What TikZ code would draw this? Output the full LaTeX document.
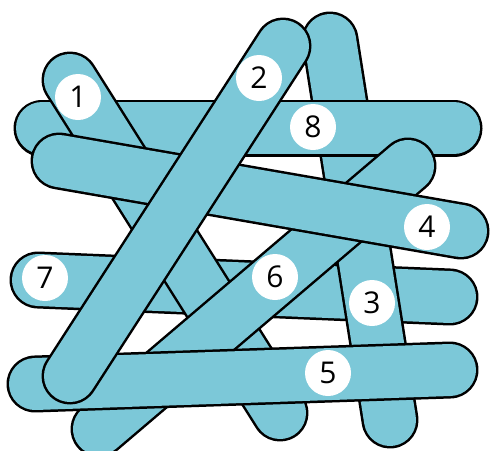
\documentclass[tikz,border=0pt]{standalone}
\usepackage{fontspec}
\setmainfont{Open Sans}
\definecolor{stickblue}{RGB}{124,200,216}
\tikzset{
  stk/.style ={line width=2.5pt, double=stickblue, double distance=52pt, line cap=round},
  num/.style ={circle, fill=white, minimum size=46pt, inner sep=0pt, font=\fontsize{30}{30}\selectfont},
}
\begin{document}
\begin{tikzpicture}[x=1pt, y=-1pt]
  \useasboundingbox (0,0) rectangle (492,450);
  \coordinate (s1a) at (70,80);   \coordinate (s1b) at (280,413);
  \coordinate (s2a) at (70,376);  \coordinate (s2b) at (283,46);
  \coordinate (s3a) at (330,40);  \coordinate (s3b) at (390,420);
  \coordinate (s4a) at (59,161);  \coordinate (s4b) at (461,231);
  \coordinate (s5a) at (35,384);  \coordinate (s5b) at (450,370);
  \coordinate (s6a) at (99,429);  \coordinate (s6b) at (408,166);
  \coordinate (s7a) at (38,280);  \coordinate (s7b) at (450,297);
  \coordinate (s8a) at (42,128);  \coordinate (s8b) at (454,128);
  \draw[stk] (s7a) -- (s7b);
  \node[num] (n7) at (45,278) {7};
  \draw[stk] (s3a) -- (s3b);
  \node[num] (n3) at (372,303) {3};
  \draw[stk] (s8a) -- (s8b);
  \node[num] (n8) at (313,127) {8};
  \draw[stk] (s1a) -- (s1b);
  \node[num] (n1) at (78,97) {1};
  \draw[stk] (s6a) -- (s6b);
  \node[num] (n6) at (275,277) {6};
  \draw[stk] (s4a) -- (s4b);
  \node[num] (n4) at (427,227) {4};
  \draw[stk] (s5a) -- (s5b);
  \node[num] (n5) at (328,373) {5};
  \draw[stk] (s2a) -- (s2b);
  \node[num] (n2) at (259,78) {2};
\end{tikzpicture}
\end{document}
